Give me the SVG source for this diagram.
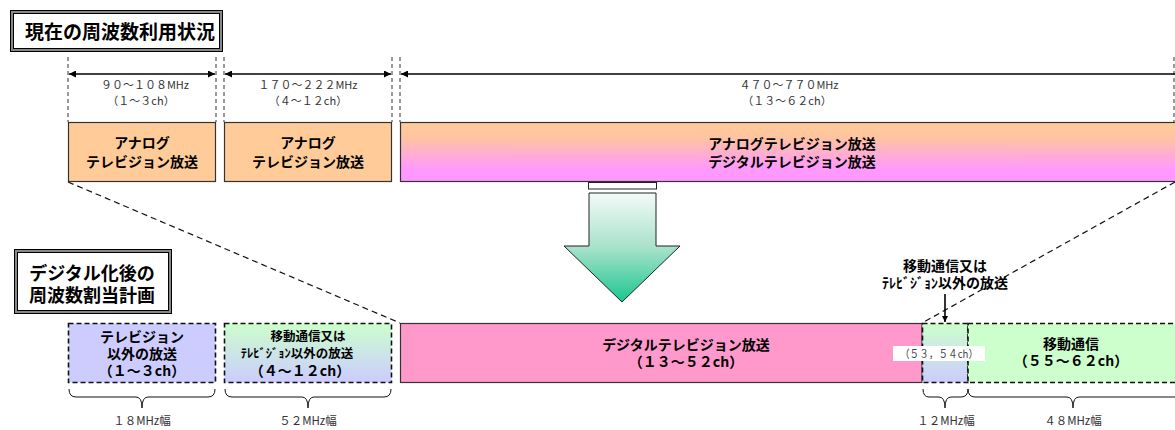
<svg xmlns="http://www.w3.org/2000/svg" width="1175" height="430" viewBox="0 0 1175 430">
<style>
text{font-family:"Noto Sans CJK JP","Noto Sans CJK SC",sans-serif;text-anchor:middle}
.b{font-weight:bold;fill:#000}
.f{font-size:11.5px;fill:#333}
.fs{font-size:11px;fill:#333}
.vd{stroke:#333;stroke-width:1;stroke-dasharray:4 3;fill:none}
.diag{stroke:#111;stroke-width:1.2;stroke-dasharray:6 4;fill:none}
.dim{stroke:#000;stroke-width:1.4;fill:none}
.solid{stroke:#333;stroke-width:1.2}
.dash{stroke:#111;stroke-width:1.6;stroke-dasharray:5 3}
.brace{stroke:#111;stroke-width:1;fill:none}
</style>
<defs>
<marker id="ah" viewBox="0 0 10 10" refX="10" refY="5" markerWidth="9" markerHeight="7" markerUnits="userSpaceOnUse" orient="auto-start-reverse"><path d="M0,0 L10,5 L0,10 z" fill="#000"/></marker>
<marker id="ahs" viewBox="0 0 10 10" refX="10" refY="5" markerWidth="6" markerHeight="6" markerUnits="userSpaceOnUse" orient="auto"><path d="M0,0 L10,5 L0,10 z" fill="#000"/></marker>
<linearGradient id="gPeachPink" x1="0" y1="0" x2="0" y2="1"><stop offset="0" stop-color="#FFCC99"/><stop offset="0.25" stop-color="#FFC4A0"/><stop offset="0.8" stop-color="#FF99FF"/><stop offset="1" stop-color="#FF99FF"/></linearGradient>
<linearGradient id="gGreenBlue" x1="0" y1="0" x2="0" y2="1"><stop offset="0" stop-color="#CCFFCC"/><stop offset="1" stop-color="#CCCCFF"/></linearGradient>
<linearGradient id="gArrow" x1="0" y1="0" x2="0" y2="1"><stop offset="0" stop-color="#F4FAF8"/><stop offset="0.5" stop-color="#A8E2CB"/><stop offset="1" stop-color="#1AC690"/></linearGradient>
</defs>

<g id="title-current">
<rect x="10.5" y="10.5" width="212" height="41" fill="#888" stroke="#000" stroke-width="1"/>
<rect x="13.5" y="13.5" width="206" height="35" fill="#fff" stroke="#000" stroke-width="1"/>
<text x="120" y="39" class="b" font-size="19">現在の周波数利用状況</text>
</g>

<g id="title-after">
<rect x="14.5" y="249.5" width="157" height="64" fill="#888" stroke="#000" stroke-width="1"/>
<rect x="17.5" y="252.5" width="151" height="58" fill="#fff" stroke="#000" stroke-width="1"/>
<text class="b" font-size="18"><tspan x="92" y="280">デジタル化後の</tspan><tspan x="92" y="302">周波数割当計画</tspan></text>
</g>

<g id="connectors">
<path class="vd" d="M68,57 V122 M216,57 V122 M224,57 V122 M392,57 V122 M400,57 V122 M1174,57 V122"/>
<line class="dim" x1="69" y1="74" x2="215" y2="74" marker-start="url(#ah)" marker-end="url(#ah)"/>
<line class="dim" x1="225" y1="74" x2="391" y2="74" marker-start="url(#ah)" marker-end="url(#ah)"/>
<line class="dim" x1="401" y1="74" x2="1175" y2="74" marker-start="url(#ah)"/>
<line class="diag" x1="68" y1="182" x2="400" y2="323"/>
<line class="diag" x1="1175" y1="182" x2="922" y2="323"/>
<line x1="945" y1="294" x2="945" y2="322" stroke="#000" stroke-width="1.6" marker-end="url(#ahs)"/>
<path class="brace" d="M69,389 Q69,397 76,397 H136 Q142,397 142,408 Q142,397 148,397 H208 Q215,397 215,389"/>
<path class="brace" d="M225,389 Q225,397 232,397 H302 Q308,397 308,408 Q308,397 314,397 H384 Q391,397 391,389"/>
<path class="brace" d="M923,389 Q923,397 929,397 H939 Q945,397 945,408 Q945,397 951,397 H961 Q968,397 968,389"/>
<path class="brace" d="M968,389 Q968,397 975,397 H1067 Q1073,397 1073,408 Q1073,397 1079,397 H1175"/>
</g>

<g id="freq-labels">
<text class="fs"><tspan x="145" y="89">９０～１０８MHz</tspan><tspan x="141" y="105">（１～３ch）</tspan></text>
<text class="fs"><tspan x="308" y="89">１７０～２２２MHz</tspan><tspan x="308" y="105">（４～１２ch）</tspan></text>
<text class="fs"><tspan x="789" y="89">４７０～７７０MHz</tspan><tspan x="787" y="105">（１３～６２ch）</tspan></text>
</g>

<g id="box-vhf-low">
<rect x="68.5" y="122.5" width="147" height="59" fill="#FFCC99" class="solid"/>
<text class="b" font-size="14"><tspan x="142" y="148">アナログ</tspan><tspan x="142" y="167">テレビジョン放送</tspan></text>
</g>

<g id="box-vhf-high">
<rect x="224.5" y="122.5" width="167" height="59" fill="#FFCC99" class="solid"/>
<text class="b" font-size="14"><tspan x="308" y="148">アナログ</tspan><tspan x="308" y="167">テレビジョン放送</tspan></text>
</g>

<g id="box-uhf">
<rect x="400.5" y="122.5" width="776" height="59" fill="url(#gPeachPink)" class="solid"/>
<text class="b" font-size="14"><tspan x="792" y="149">アナログテレビジョン放送</tspan><tspan x="792" y="167">デジタルテレビジョン放送</tspan></text>
</g>

<g id="transition-arrow">
<rect x="588.5" y="182.5" width="68" height="6.5" fill="#fff" stroke="#222" stroke-width="1"/>
<path d="M589,193 H656 V246 H680 L622,302 L564,246 H589 Z" fill="url(#gArrow)" stroke="#222" stroke-width="1"/>
</g>

<g id="box-new-vhf-low">
<rect x="68.5" y="323.5" width="147" height="59" fill="#CCCCFF" class="dash"/>
<text class="b" font-size="14"><tspan x="142" y="342">テレビジョン</tspan><tspan x="142" y="359">以外の放送</tspan><tspan x="142" y="376">（１～３ch）</tspan></text>
</g>

<g id="box-new-vhf-high">
<rect x="224.5" y="323.5" width="167" height="59" fill="url(#gGreenBlue)" class="dash"/>
<text class="b" font-size="12.5"><tspan x="308" y="341">移動通信又は</tspan><tspan x="297" y="358">ﾃﾚﾋﾞｼﾞｮﾝ以外の放送</tspan><tspan x="300" y="376" font-size="14">（４～１２ch）</tspan></text>
</g>

<g id="box-digital">
<rect x="400.5" y="323.5" width="521.5" height="59" fill="#FF99CC" class="solid"/>
<text class="b" font-size="14"><tspan x="686" y="350">デジタルテレビジョン放送</tspan><tspan x="686" y="367">（１３～５２ch）</tspan></text>
</g>

<g id="box-guard">
<rect x="922.5" y="323.5" width="45.5" height="59" fill="url(#gGreenBlue)" class="dash"/>
</g>

<g id="box-mobile">
<rect x="968" y="323.5" width="210" height="59" fill="#CCFFCC" class="dash"/>
<text class="b" font-size="14"><tspan x="1071" y="349">移動通信</tspan><tspan x="1071" y="366">（５５～６２ch）</tspan></text>
</g>

<g id="label-guard">
<rect x="893" y="346" width="92" height="15" fill="#fff"/>
<text x="939" y="358" font-size="11" fill="#444" textLength="78" lengthAdjust="spacingAndGlyphs">（５３，５４ch）</text>
</g>

<g id="annotation">
<text class="b" font-size="14"><tspan x="945" y="271">移動通信又は</tspan><tspan x="945" y="288">ﾃﾚﾋﾞｼﾞｮﾝ以外の放送</tspan></text>
</g>

<g id="width-labels">
<text x="142" y="425" class="f">１８MHz幅</text>
<text x="308" y="425" class="f">５２MHz幅</text>
<text x="946" y="425" class="f">１２MHz幅</text>
<text x="1073" y="425" class="f">４８MHz幅</text>
</g>
</svg>
